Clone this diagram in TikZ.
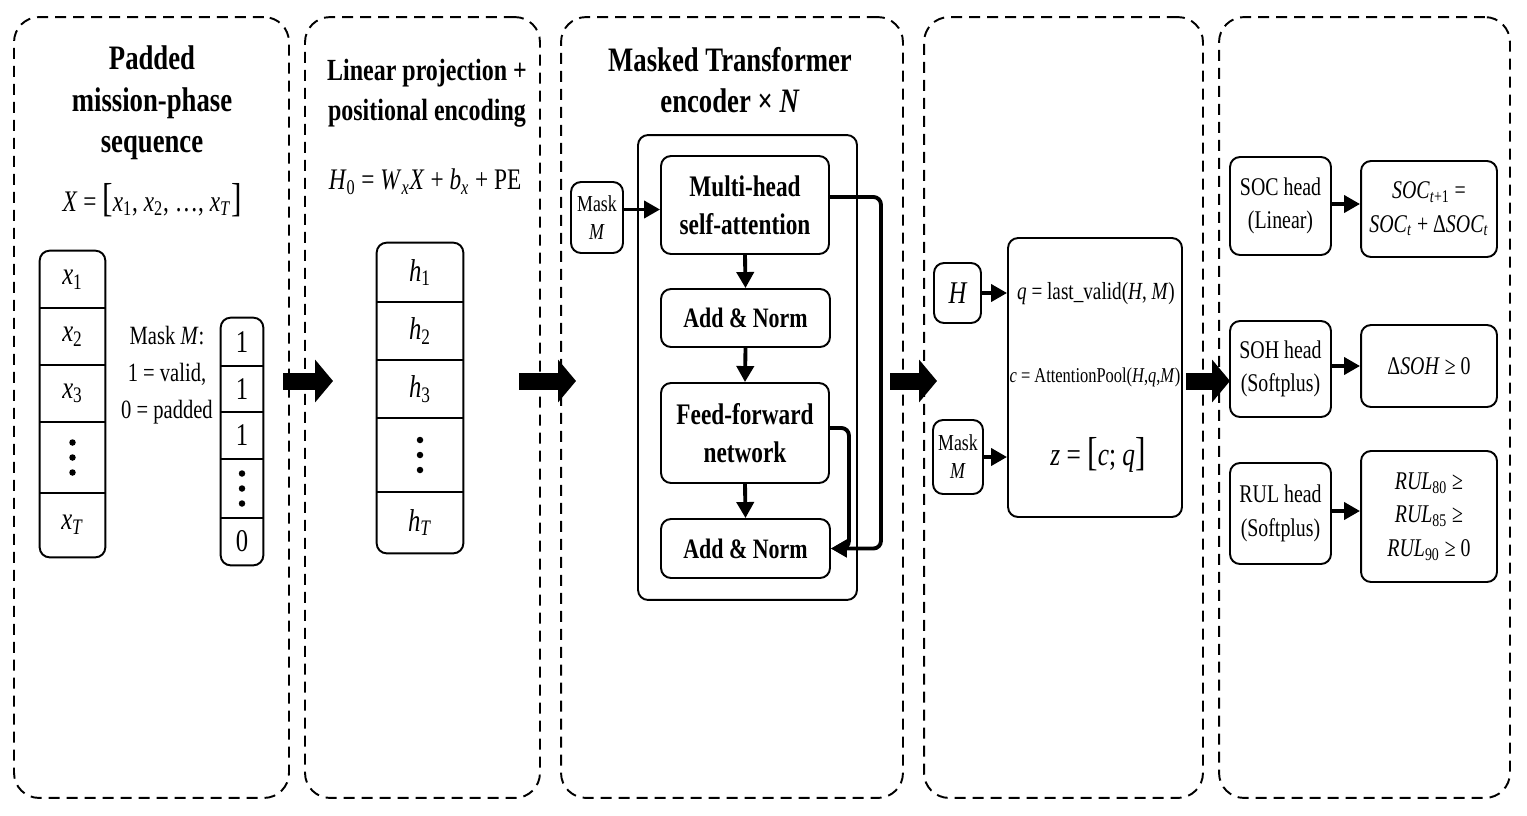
\documentclass[tikz,border=0pt]{standalone}
\usepackage{fontspec}
\setmainfont[FakeStretch=0.78]{Liberation Serif}
\usetikzlibrary{arrows.meta,positioning,calc}
\newcommand{\sbs}[1]{\textsubscript{#1}}
\newcommand{\bigbr}[1]{{\fontsize{23}{23}\selectfont#1}}

\tikzset{
  panel/.style={draw, dash pattern=on 0.22cm off 0.14cm, line width=1.1pt, rounded corners=0.5cm},
  blk/.style={draw, line width=1.1pt, rounded corners=0.2cm, align=center, inner sep=0pt},
  boxline/.style={line width=1.1pt},
  cell/.style={inner sep=0pt, font=\fontsize{18}{20}\selectfont},
  ttl/.style={font=\fontsize{19.5}{23.5}\selectfont\bfseries, align=center},
  eq/.style={font=\fontsize{17}{20}\selectfont, inner sep=0pt},
  sarr/.style={line width=2.2pt, -{Triangle[length=0.32cm,width=0.34cm]}},
  bigarr/.style={line width=0.34cm, -{Triangle[length=0.36cm,width=0.84cm]}},
}

\begin{document}
\begin{tikzpicture}[x=0.02cm,y=-0.02cm]
\useasboundingbox (0,0) rectangle (1527,815);

% dashed panels
\node[panel, minimum width=5.5cm,  minimum height=15.62cm] (p1) at (151.5,407.5) {};
\node[panel, minimum width=4.7cm,  minimum height=15.62cm] (p2) at (422.5,407.5) {};
\node[panel, minimum width=6.84cm, minimum height=15.62cm] (p3) at (732,407.5) {};
\node[panel, minimum width=5.58cm, minimum height=15.62cm] (p4) at (1063.5,407.5) {};
\node[panel, minimum width=5.82cm, minimum height=15.62cm] (p5) at (1364.5,407.5) {};

% panel 1: input sequence
\node[ttl] (t1) at (152,103) {Padded\\mission-phase\\sequence};
\node[eq] (f1) at (152,200) {\textit{X} = \bigbr{[}\textit{x}\sbs{1}, \textit{x}\sbs{2}, \ldots, \textit{x}\sbs{\textit{T}}\bigbr{]}};
\node[cell, minimum width=1.3cm, minimum height=1.14cm] (x1) at (72.5,279.5) {\textit{x}\sbs{1}};
\node[cell, minimum width=1.3cm, minimum height=1.14cm] (x2) at (72.5,336.5) {\textit{x}\sbs{2}};
\node[cell, minimum width=1.3cm, minimum height=1.14cm] (x3) at (72.5,393.5) {\textit{x}\sbs{3}};
\node[cell, minimum width=1.3cm, minimum height=1.42cm] (xd) at (72.5,457.5) {};
\node[cell, minimum width=1.3cm, minimum height=1.28cm] (xT) at (72.5,525) {\textit{x}\sbs{\textit{T}}};
\draw[boxline, rounded corners=0.2cm] (x1.north west) rectangle (xT.south east);
\foreach \c in {x1,x2,x3,xd}
  \draw[boxline] (\c.south west) -- (\c.south east);

\node[font=\fontsize{15}{21}\selectfont, align=center] (mtxt) at (167,375) {Mask \textit{M}:\\1 = valid,\\0 = padded};
\node[cell, minimum width=0.84cm, minimum height=0.96cm] (m1) at (242,342) {1};
\node[cell, minimum width=0.84cm, minimum height=0.92cm] (m2) at (242,389) {1};
\node[cell, minimum width=0.84cm, minimum height=0.94cm] (m3) at (242,435.5) {1};
\node[cell, minimum width=0.84cm, minimum height=1.18cm] (md) at (242,488.5) {};
\node[cell, minimum width=0.84cm, minimum height=0.94cm] (m0) at (242,541.5) {0};
\draw[boxline, rounded corners=0.2cm] (m1.north west) rectangle (m0.south east);
\foreach \c in {m1,m2,m3,md}
  \draw[boxline] (\c.south west) -- (\c.south east);

% panel 2: projection
\node[ttl, font=\fontsize{17.5}{22.5}\selectfont\bfseries] (t2) at (427,93) {Linear projection +\\positional encoding};
\node[eq] (f2) at (425,182) {\textit{H}\sbs{0} = \textit{W}\sbs{\textit{x}}\textit{X} + \textit{b}\sbs{\textit{x}} + PE};
\node[cell, minimum width=1.72cm, minimum height=1.18cm] (h1) at (420,272.5) {\textit{h}\sbs{1}};
\node[cell, minimum width=1.72cm, minimum height=1.16cm] (h2) at (420,331) {\textit{h}\sbs{2}};
\node[cell, minimum width=1.72cm, minimum height=1.16cm] (h3) at (420,389) {\textit{h}\sbs{3}};
\node[cell, minimum width=1.72cm, minimum height=1.48cm] (hd) at (420,455) {};
\node[cell, minimum width=1.72cm, minimum height=1.22cm] (hT) at (420,522.5) {\textit{h}\sbs{\textit{T}}};
\draw[boxline, rounded corners=0.2cm] (h1.north west) rectangle (hT.south east);
\foreach \c in {h1,h2,h3,hd}
  \draw[boxline] (\c.south west) -- (\c.south east);

% vertical dots in the ellipsis cells
\foreach \c in {xd,md,hd}
  \foreach \d in {-15,0,15}
    \fill ($(\c.center)+(0,\d)$) circle (0.065cm);

% panel 3: encoder
\node[ttl] (t3) at (730,80) {Masked Transformer\\encoder × \textit{N}};
\node[blk, minimum width=4.38cm, minimum height=9.3cm] (enc) at (747.5,367.5) {};
\node[blk, minimum width=1.04cm, minimum height=1.42cm, font=\fontsize{13}{16}\selectfont] (maskA) at (597,217.5) {Mask\\\textit{M}};
\node[blk, minimum width=3.36cm, minimum height=1.96cm, font=\fontsize{17}{21.5}\selectfont\bfseries] (mhsa) at (745,205) {Multi-head\\self-attention};
\node[blk, minimum width=3.38cm, minimum height=1.16cm, font=\fontsize{16}{20}\selectfont\bfseries] (an1) at (745.5,318) {Add \& Norm};
\node[blk, minimum width=3.36cm, minimum height=2.0cm, font=\fontsize{17}{21.5}\selectfont\bfseries] (ffn) at (745,433) {Feed-forward\\network};
\node[blk, minimum width=3.38cm, minimum height=1.18cm, font=\fontsize{16}{20}\selectfont\bfseries] (an2) at (745.5,548.5) {Add \& Norm};
\draw[sarr] ([yshift=0.16cm]maskA.east) -- ([yshift=0.16cm]maskA.east -| mhsa.west);
\draw[sarr] (mhsa.south) -- (an1.north);
\draw[sarr] (an1.south) -- (ffn.north);
\draw[sarr] (ffn.south) -- (an2.north);
\draw[sarr, rounded corners=0.15cm] ([yshift=0.16cm]mhsa.east) -- ++(51,0) |- (an2.east);
\draw[sarr, rounded corners=0.15cm] ([yshift=0.1cm]ffn.east) -- ++(19,0) |- (an2.east);

% panel 4: pooling
\node[blk, minimum width=0.94cm, minimum height=1.2cm, font=\fontsize{18}{20}\selectfont\itshape] (hbox) at (957.5,293) {H};
\node[blk, minimum width=1.0cm, minimum height=1.48cm, font=\fontsize{13}{16}\selectfont] (maskB) at (958,457) {Mask\\\textit{M}};
\node[blk, minimum width=3.48cm, minimum height=5.58cm] (pool) at (1095,377.5) {};
\node[font=\fontsize{14}{17}\selectfont, inner sep=0pt] (qtxt) at (1096,294) {\textit{q} = last\_valid(\textit{H}, \textit{M})};
\node[font=\fontsize{12}{15}\selectfont, inner sep=0pt] (ctxt) at (1095,377) {\textit{c} = AttentionPool(\textit{H},\textit{q},\textit{M})};
\node[font=\fontsize{18.5}{20}\selectfont, inner sep=0pt] (ztxt) at (1098,455) {\textit{z} = \bigbr{[}\textit{c}; \textit{q}\bigbr{]}};
\draw[sarr] (hbox.east) -- (hbox.east -| pool.west);
\draw[sarr] (maskB.east) -- (maskB.east -| pool.west);

% panel 5: heads
\node[blk, minimum width=2.02cm, minimum height=1.96cm, font=\fontsize{14.5}{19}\selectfont] (soch) at (1280.5,206) {SOC head\\(Linear)};
\node[blk, minimum width=2.72cm, minimum height=1.92cm, font=\fontsize{14.5}{19}\selectfont] (soco) at (1429,209) {\textit{SOC}\sbs{\textit{t}+1} =\\\textit{SOC}\sbs{\textit{t}} + Δ\textit{SOC}\sbs{\textit{t}}};
\node[blk, minimum width=2.02cm, minimum height=1.92cm, font=\fontsize{14.5}{19}\selectfont] (sohh) at (1280.5,369) {SOH head\\(Softplus)};
\node[blk, minimum width=2.72cm, minimum height=1.64cm, font=\fontsize{14.5}{19}\selectfont] (soho) at (1429,366) {Δ\textit{SOH} ≥ 0};
\node[blk, minimum width=2.02cm, minimum height=2.02cm, font=\fontsize{14.5}{19}\selectfont] (rulh) at (1280.5,513.5) {RUL head\\(Softplus)};
\node[blk, minimum width=2.72cm, minimum height=2.62cm, font=\fontsize{14.5}{19}\selectfont] (rulo) at (1429,516.5) {\textit{RUL}\sbs{80} ≥\\\textit{RUL}\sbs{85} ≥\\\textit{RUL}\sbs{90} ≥ 0};
\draw[sarr] ([yshift=0.04cm]soch.east) -- ([yshift=0.04cm]soch.east -| soco.west);
\draw[sarr] ([yshift=0.06cm]sohh.east) -- ([yshift=0.06cm]sohh.east -| soho.west);
\draw[sarr] ([yshift=0.05cm]rulh.east) -- ([yshift=0.05cm]rulh.east -| rulo.west);

% block arrows between stages
\coordinate (a1s) at (283,381);  \coordinate (a1e) at (333,381);
\coordinate (a2s) at (519,381);  \coordinate (a2e) at (576,381);
\coordinate (a3s) at (890,381);  \coordinate (a3e) at (937,381);
\coordinate (a4s) at (1186,381); \coordinate (a4e) at (1230,381);
\foreach \s/\e in {a1s/a1e,a2s/a2e,a3s/a3e,a4s/a4e}
  \draw[bigarr] (\s) -- (\e);
\end{tikzpicture}
\end{document}
